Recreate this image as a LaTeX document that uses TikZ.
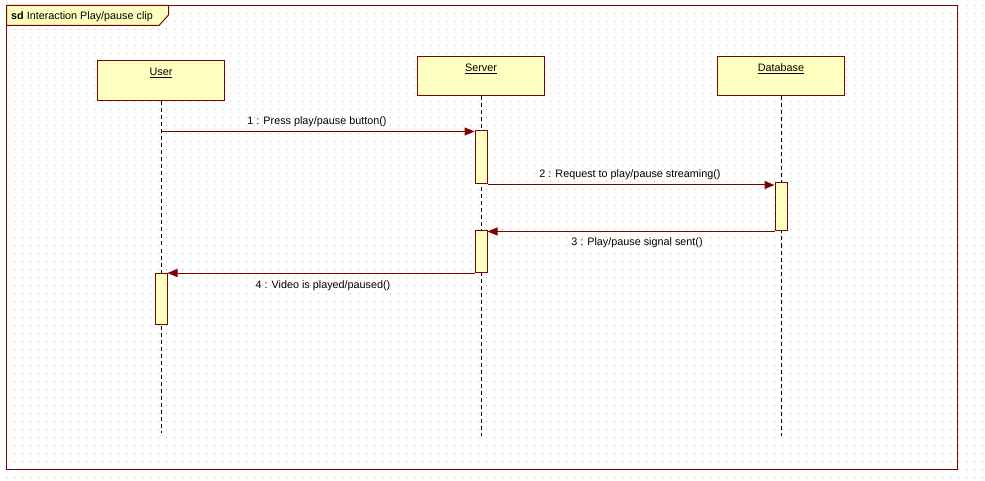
\documentclass[tikz,border=0pt]{standalone}
\usepackage{fontspec}
\setmainfont{Liberation Sans}
\usetikzlibrary{arrows.meta}
\definecolor{umlred}{RGB}{128,0,0}
\definecolor{umlfill}{RGB}{255,255,192}
\definecolor{dotgray}{RGB}{192,192,192}
\begin{document}
\begin{tikzpicture}[x=1pt,y=-1pt,
  lifebox/.style={draw=umlred,fill=umlfill,line width=1pt,minimum width=127pt,minimum height=39pt,inner sep=0pt},
  actbox/.style={draw=umlred,fill=umlfill,line width=1pt,minimum width=12pt,inner sep=0pt},
  lifeline/.style={draw=black,line width=1pt,dash pattern=on 4pt off 3pt},
  msg/.style={draw=umlred,line width=1pt,-{Triangle[length=10pt,width=8pt]}},
  msglbl/.style={font=\fontsize{10.8}{12}\selectfont,inner sep=0pt},
  namelbl/.style={font=\fontsize{10.8}{12}\selectfont,inner sep=0pt}]
\useasboundingbox (0,0) rectangle (985,481);
\fill[white] (0,0) rectangle (985,481);
% dot grid
\fill[dotgray] \foreach \i in {0,...,122} { \foreach \j in {0,...,59} { (6+8*\i,5+8*\j) rectangle ++(1,1) } };
% frame
\draw[umlred,line width=1pt] (6.5,5.5) rectangle (957.5,469.5);
\filldraw[draw=umlred,fill=umlfill,line width=1pt] (6.5,5.5) -- (168.5,5.5) -- (168.5,15) -- (159,25.5) -- (6.5,25.5) -- cycle;
\node[anchor=west,msglbl] (title) at (11,16.5) {\textbf{sd} Interaction Play/pause clip};
% lifeline heads
\node[lifebox,minimum height=40pt] (user) at (160.5,81) {};
\node[lifebox] (server) at (480.5,76.5) {};
\node[lifebox] (db) at (780.5,76.5) {};
\node[namelbl] (userlbl) at (161,73) {\underline{User}};
\node[namelbl] (serverlbl) at (481,69) {\underline{Server}};
\node[namelbl] (dblbl) at (781,69) {\underline{Database}};
% lifeline ends
\coordinate (userend) at (161.5,433);
\coordinate (serverend) at (481.5,436);
\coordinate (dbend) at (781.5,436);
\draw[lifeline] (user.south -| userend) -- (userend);
\draw[lifeline] (server.south -| serverend) -- (serverend);
\draw[lifeline] (db.south -| dbend) -- (dbend);
% activations
\node[actbox,minimum height=53pt] (s1) at (481,157.5) {};
\node[actbox,minimum height=48pt] (d1) at (781,207) {};
\node[actbox,minimum height=41pt] (s2) at (481,251.5) {};
\node[actbox,minimum height=51pt] (u1) at (161,298.5) {};
% messages
\coordinate (m1s) at (161.5,131.5);
\draw[msg] (m1s) -- (m1s -| s1.west);
\draw[msg] ([yshift=-0.5pt]s1.south east) -- ([yshift=-0.5pt]s1.south east -| d1.west);
\draw[msg] (d1.south west) -- (d1.south west -| s2.east);
\draw[msg] ([yshift=-0.5pt]s2.south west) -- ([yshift=-0.5pt]s2.south west -| u1.east);
% labels
\node[msglbl] (l1) at (317,121.5) {1 : Press play/pause button()};
\node[msglbl] (l2) at (630,174.5) {2 : Request to play/pause streaming()};
\node[msglbl] (l3) at (637,242.5) {3 : Play/pause signal sent()};
\node[msglbl] (l4) at (323,285.5) {4 : Video is played/paused()};
\end{tikzpicture}
\end{document}
